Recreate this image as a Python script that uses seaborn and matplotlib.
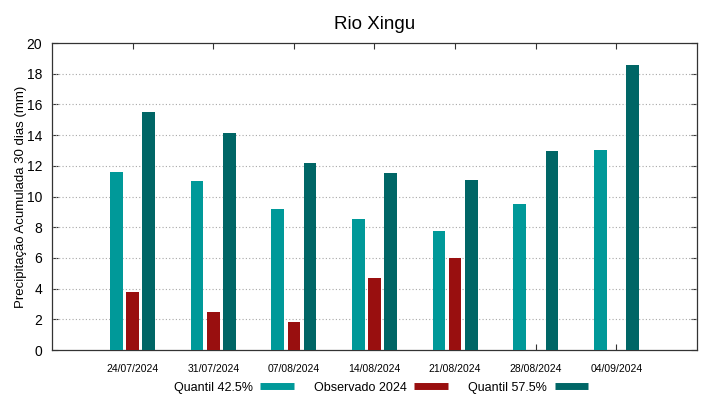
import pandas as pd
import numpy as np
import matplotlib
matplotlib.use("Agg")
import matplotlib.pyplot as plt
import seaborn as sns
from matplotlib.lines import Line2D

# Data
dates = ["24/07/2024", "31/07/2024", "07/08/2024", "14/08/2024",
         "21/08/2024", "28/08/2024", "04/09/2024"]
q425 = [11.6, 11.0, 9.2, 8.55, 7.75, 9.5, 13.0]
obs2024 = [3.8, 2.5, 1.8, 4.7, 6.0, np.nan, np.nan]
q575 = [15.5, 14.15, 12.2, 11.5, 11.1, 12.95, 18.55]

series_names = ["Quantil 42.5%", "Observado 2024", "Quantil 57.5%"]
colors = ["#009999", "#990f0f", "#006666"]

# long format for seaborn
df = pd.concat([
    pd.DataFrame({"data": dates, "valor": q425, "serie": series_names[0]}),
    pd.DataFrame({"data": dates, "valor": obs2024, "serie": series_names[1]}),
    pd.DataFrame({"data": dates, "valor": q575, "serie": series_names[2]}),
], ignore_index=True)

sns.set_style("white")
plt.rcParams['font.family'] = ['Liberation Sans', 'DejaVu Sans']
plt.rcParams['text.color'] = 'black'
plt.rcParams['axes.labelcolor'] = 'black'
plt.rcParams['xtick.color'] = 'black'
plt.rcParams['ytick.color'] = 'black'

fig = plt.figure(figsize=(7.19, 3.99), dpi=100)
ax = fig.add_axes([0.0723, 0.1228, 0.8971, 0.7694])

sns.barplot(data=df, x="data", y="valor", hue="serie", order=dates,
            hue_order=series_names, palette=dict(zip(series_names, colors)),
            width=0.6, gap=0.22, saturation=1, errorbar=None,
            edgecolor="none", legend=False, ax=ax, zorder=3)

ax.set_xlim(-1, 7)
ax.set_ylim(0, 20)
ax.set_yticks(range(0, 21, 2))
ax.set_xticks(range(len(dates)))
ax.set_xticklabels(dates, fontsize=7.5)
ax.tick_params(axis="y", labelsize=10, pad=7)
ax.tick_params(direction="in", length=4, width=0.8, color="#333333",
               top=True, right=True, bottom=True, left=True)
ax.tick_params(axis="x", pad=10)

for yv in range(2, 20, 2):
    ax.axhline(yv, color="#a8a8a8", linewidth=0.8, linestyle=(0, (1, 2)), zorder=1)

for s in ax.spines.values():
    s.set_color("#333333")
    s.set_linewidth(0.9)

ax.set_xlabel("")
ax.set_ylabel("Precipitação Acumulada 30 dias (mm)", fontsize=9.5, labelpad=0)
ax.set_title("Rio Xingu", fontsize=13.5, pad=10)

handles = [Line2D([0], [0], color=c, linewidth=5, solid_capstyle="butt") for c in colors]
fig.legend(handles, series_names, loc="center", bbox_to_anchor=(0.53, 0.028),
           ncol=3, frameon=False, markerfirst=False, fontsize=9,
           handlelength=2.7, handletextpad=0.6, columnspacing=1.6)

fig.savefig("out.png", dpi=100)
